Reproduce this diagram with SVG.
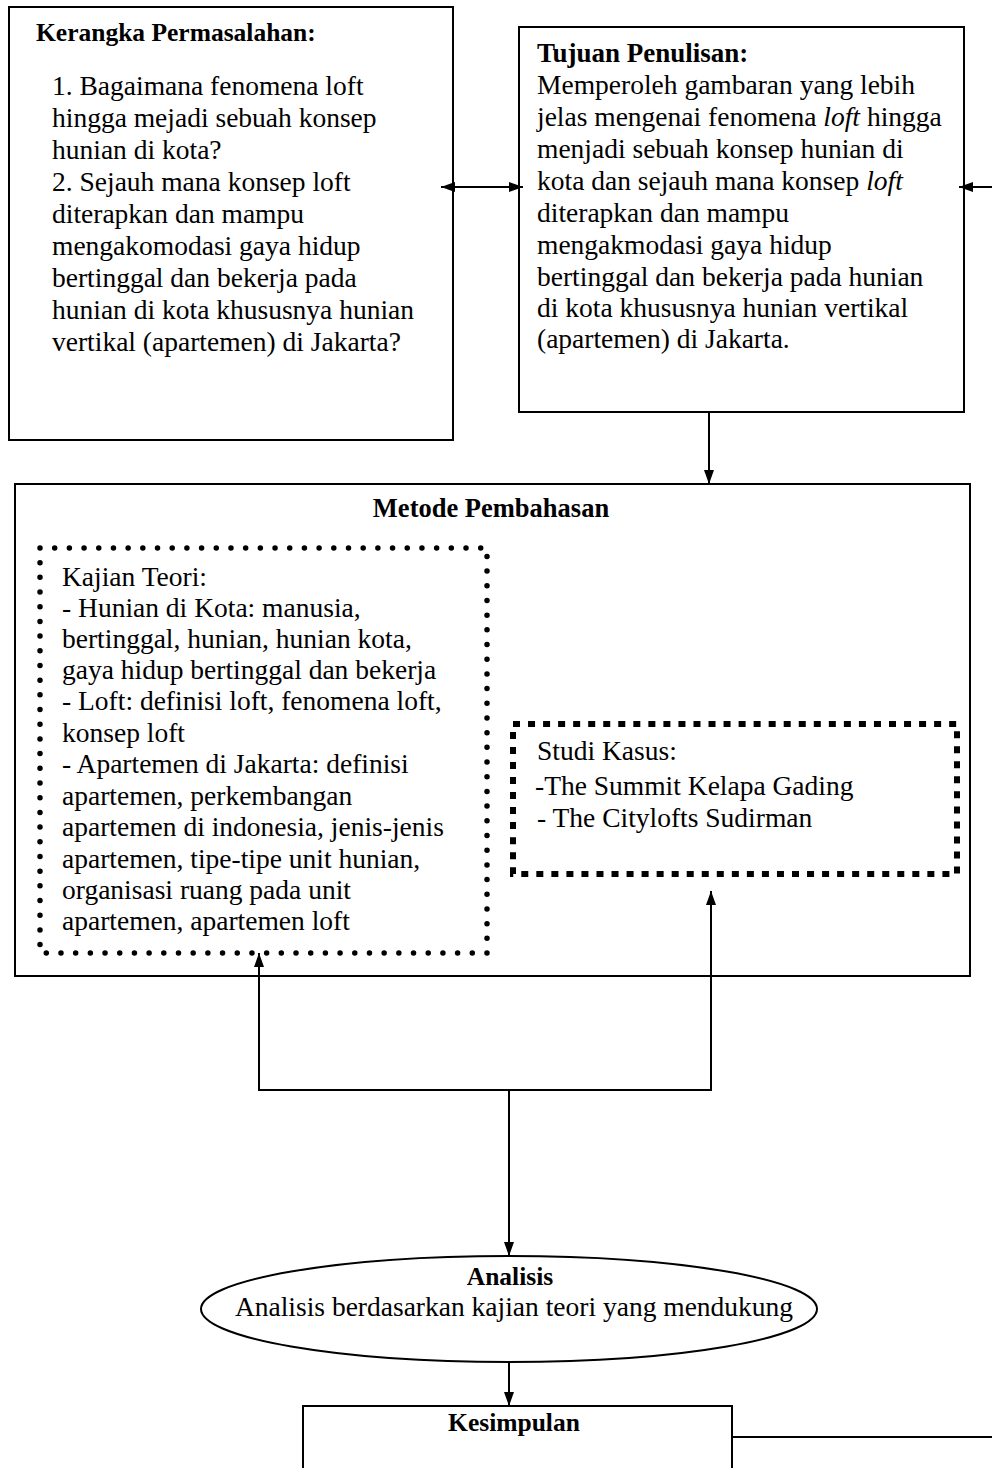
<svg xmlns="http://www.w3.org/2000/svg" width="992" height="1468" viewBox="0 0 992 1468">
<defs>
<marker id="ah" viewBox="0 0 14 12" refX="14" refY="6" markerWidth="14" markerHeight="12" markerUnits="userSpaceOnUse" orient="auto-start-reverse">
<path d="M0,1 L14,6 L0,11 Z" fill="#000"/>
</marker>
<style>
.box{fill:none;stroke:#000;stroke-width:2}
.t{font-family:"Liberation Serif","Times New Roman",serif;font-size:27.5px;fill:#000}
.b{font-family:"Liberation Serif","Times New Roman",serif;font-size:25.5px;font-weight:bold;fill:#000}
.c{fill:none;stroke:#000;stroke-width:2}
.dots{fill:none;stroke:#000;stroke-width:5.5;stroke-linecap:round;stroke-dasharray:0 14.69}
.sq{fill:none;stroke:#000;stroke-width:6;stroke-dasharray:7 8.04}
</style>
</defs>
<rect width="992" height="1468" fill="#fff"/>
<g id="kerangka">
<rect class="box" x="9" y="7" width="444" height="433"/>
<text class="b" x="36" y="41">Kerangka Permasalahan:</text>
<text class="t" x="52" y="95">1. Bagaimana fenomena loft</text>
<text class="t" x="52" y="127">hingga mejadi sebuah konsep</text>
<text class="t" x="52" y="159">hunian di kota?</text>
<text class="t" x="52" y="191">2. Sejauh mana konsep loft</text>
<text class="t" x="52" y="223">diterapkan dan mampu</text>
<text class="t" x="52" y="255">mengakomodasi gaya hidup</text>
<text class="t" x="52" y="287">bertinggal dan bekerja pada</text>
<text class="t" x="52" y="319">hunian di kota khususnya hunian</text>
<text class="t" x="52" y="351">vertikal (apartemen) di Jakarta?</text>
</g>
<g id="tujuan">
<rect class="box" x="519" y="27" width="445" height="385"/>
<text class="b" x="537" y="62" style="font-size:27px">Tujuan Penulisan:</text>
<text class="t" x="537" y="94">Memperoleh gambaran yang lebih</text>
<text class="t" x="537" y="126">jelas mengenai fenomena <tspan font-style="italic">loft</tspan> hingga</text>
<text class="t" x="537" y="158">menjadi sebuah konsep hunian di</text>
<text class="t" x="537" y="190">kota dan sejauh mana konsep <tspan font-style="italic">loft</tspan></text>
<text class="t" x="537" y="222">diterapkan dan mampu</text>
<text class="t" x="537" y="254">mengakmodasi gaya hidup</text>
<text class="t" x="537" y="286">bertinggal dan bekerja pada hunian</text>
<text class="t" x="537" y="317">di kota khususnya hunian vertikal</text>
<text class="t" x="537" y="348">(apartemen) di Jakarta.</text>
</g>
<g id="metode">
<rect class="box" x="15" y="484" width="955" height="492"/>
<text class="b" x="491" y="517" text-anchor="middle" style="font-size:26.5px">Metode Pembahasan</text>
</g>
<g id="kajian">
<rect class="dots" x="40" y="548" width="447" height="405"/>
<text class="t" x="62" y="586">Kajian Teori:</text>
<text class="t" x="62" y="617">- Hunian di Kota: manusia,</text>
<text class="t" x="62" y="648">bertinggal, hunian, hunian kota,</text>
<text class="t" x="62" y="679">gaya hidup bertinggal dan bekerja</text>
<text class="t" x="62" y="710">- Loft: definisi loft, fenomena loft,</text>
<text class="t" x="62" y="742">konsep loft</text>
<text class="t" x="62" y="773">- Apartemen di Jakarta: definisi</text>
<text class="t" x="62" y="805">apartemen, perkembangan</text>
<text class="t" x="62" y="836">apartemen di indonesia, jenis-jenis</text>
<text class="t" x="62" y="868">apartemen, tipe-tipe unit hunian,</text>
<text class="t" x="62" y="899">organisasi ruang pada unit</text>
<text class="t" x="62" y="930">apartemen, apartemen loft</text>
</g>
<g id="studi">
<rect class="sq" x="513" y="724" width="444" height="150"/>
<text class="t" x="537" y="760">Studi Kasus:</text>
<text class="t" x="535" y="795">-The Summit Kelapa Gading</text>
<text class="t" x="537" y="827">- The Citylofts Sudirman</text>
</g>
<g id="analisis">
<ellipse class="box" cx="509" cy="1309" rx="308" ry="53"/>
<text class="b" x="510" y="1285" text-anchor="middle">Analisis</text>
<text class="t" x="514" y="1316" text-anchor="middle">Analisis berdasarkan kajian teori yang mendukung</text>
</g>
<g id="kesimpulan">
<rect class="box" x="303" y="1406" width="429" height="80"/>
<text class="b" x="514" y="1431" text-anchor="middle">Kesimpulan</text>
</g>
<g id="connectors">
<line class="c" x1="441" y1="187" x2="523" y2="187" marker-start="url(#ah)" marker-end="url(#ah)"/>
<line class="c" x1="992" y1="187" x2="959" y2="187" marker-end="url(#ah)"/>
<line class="c" x1="709" y1="412" x2="709" y2="484" marker-end="url(#ah)"/>
<polyline class="c" points="259,953 259,1090 711,1090 711,891" marker-start="url(#ah)" marker-end="url(#ah)"/>
<line class="c" x1="509" y1="1090" x2="509" y2="1256" marker-end="url(#ah)"/>
<line class="c" x1="509" y1="1362" x2="509" y2="1406" marker-end="url(#ah)"/>
<line class="c" x1="732" y1="1437" x2="992" y2="1437"/>
</g>
</svg>
